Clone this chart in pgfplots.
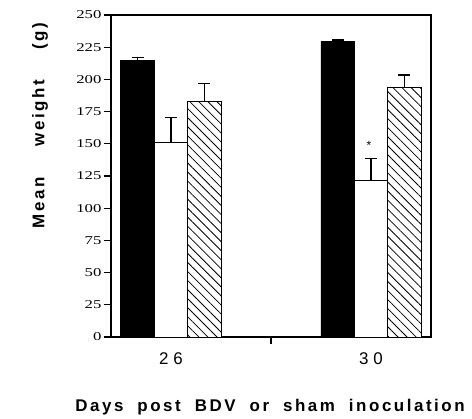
\documentclass[border=0pt]{standalone}
\usepackage{fontspec}
\setmainfont{Liberation Sans}
\newfontfamily\serifnum[FakeStretch=1.4]{Liberation Serif}
\newfontfamily\labfont[LetterSpace=15]{Liberation Sans}
\usepackage{pgfplots}
\pgfplotsset{compat=1.18}
\usetikzlibrary{patterns.meta}

\newcommand{\xg}{\hspace{14bp}}
\newcommand{\yg}{\hspace{31bp}}

\pgfplotstableread{
x y err
0 214.5 2.5
1 229.3 1.3
}\blackbars
\pgfplotstableread{
x y err
0 150.9 19.7
1 121.4 17.3
}\whitebars
\pgfplotstableread{
x y err
0 183.0 14.0
1 193.9 9.5
}\hatchbars

\begin{document}
\begin{tikzpicture}
\begin{axis}[
    name=ax,
    scale only axis,
    width=320bp, height=322bp,
    xmin=-0.3, xmax=1.3,
    ymin=0, ymax=250,
    ybar=0pt,
    bar width=0.167,
    axis line style={line width=1.2bp},
    ytick={0,25,...,250},
    ytick pos=left,
    xtick pos=bottom,
    tick align=outside,
    major tick length=7bp,
    tick style={line width=1.1bp, black},
    xtick={0.5},
    xticklabels={},
    extra x ticks={0,1},
    extra x tick labels={2\hspace{5pt}6, 3\hspace{5pt}0},
    extra x tick style={major tick length=0pt,
        xticklabel style={font=\fontsize{17}{17}\selectfont, anchor=north, yshift=-12bp}},
    /pgf/number format/assume math mode=true,
    yticklabel style={font=\serifnum\fontsize{12}{12}\selectfont, xshift=1bp},
    xlabel={\labfont\bfseries Days\xg post\xg BDV\xg or\xg sham\xg inoculation},
    xlabel style={at={(axis description cs:0.497,-0.219)}, anchor=center,
        font=\fontsize{17}{17}\selectfont},
    ylabel={\labfont\bfseries Mean\yg weight\yg (g)},
    ylabel style={at={(axis description cs:-0.222,0.657)}, anchor=center,
        rotate=0, font=\fontsize{17}{17}\selectfont},
    error bars/error bar style={line width=1.1bp, black},
    error bars/error mark options={rotate=90, mark size=6bp, line width=1.1bp},
    clip=false,
]
\addplot[fill=black, draw=black, line width=0.8bp,
    error bars/.cd, y dir=plus, y explicit]
    table[x=x, y=y, y error=err] {\blackbars};
\addplot[fill=white, draw=black, line width=0.8bp,
    error bars/.cd, y dir=plus, y explicit]
    table[x=x, y=y, y error=err] {\whitebars};
\addplot[fill=white, draw=black, line width=0.8bp,
    postaction={pattern={Lines[angle=-45, distance=6.4bp, line width=0.8bp]}},
    error bars/.cd, y dir=plus, y explicit]
    table[x=x, y=y, y error=err] {\hatchbars};
\node[font=\fontsize{12}{12}\selectfont] at (axis cs:0.99,149) {*};
\end{axis}
\path ([xshift=-111bp,yshift=-79bp]ax.south west) rectangle ([xshift=41bp,yshift=15bp]ax.north east);
\end{tikzpicture}
\end{document}
